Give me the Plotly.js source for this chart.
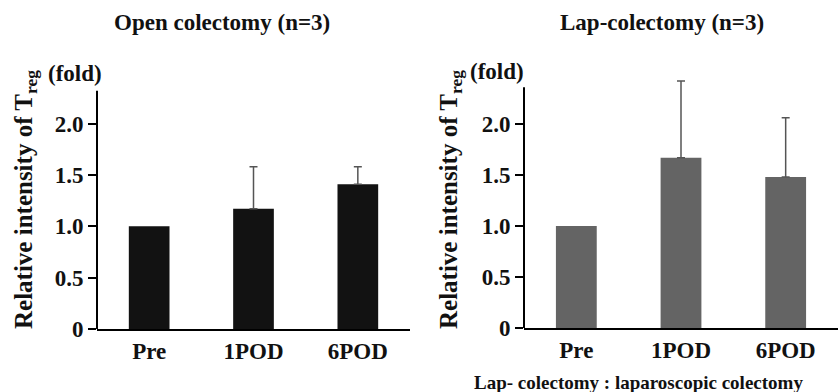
<!DOCTYPE html>
<html>
<head>
<meta charset="utf-8">
<script src="https://cdn.plot.ly/plotly-3.0.1.min.js"></script>
<style>html,body{margin:0;padding:0;background:#fff;}#chart{width:839px;height:392px;}</style>
</head>
<body>
<div id="chart"></div>
<script>
const categories = ["Pre", "1POD", "6POD"];
const openValues = [1.0, 1.17, 1.41];
const openErrPlus = [0, 0.41, 0.17];
const lapValues = [1.0, 1.67, 1.48];
const lapErrPlus = [0, 0.75, 0.58];
const yTickVals = [0, 0.5, 1.0, 1.5, 2.0];
const yTickText = ["0", "0.5", "1.0", "1.5", "2.0"];
const openTitle = "Open colectomy (n=3)";
const lapTitle = "Lap-colectomy (n=3)";
const yTitle = "Relative intensity of T<sub>reg</sub>";
const unitLabel = "(fold)";
const footnote = "Lap- colectomy : laparoscopic colectomy";

const W = 839, H = 392;
const px = v => v / W;
const py = v => 1 - v / H;
const serif = "Liberation Serif";

function errPlus(a) { return a.map(v => v === 0 ? NaN : v); }
function errMinus(a) { return a.map(v => v === 0 ? NaN : 0); }

const traces = [
  {
    type: "bar", x: categories, y: openValues, xaxis: "x", yaxis: "y",
    width: 0.39, marker: {color: "#121212"},
    error_y: {type: "data", symmetric: false, array: errPlus(openErrPlus), arrayminus: errMinus(openErrPlus),
      color: "#555", thickness: 1.5, width: 4},
    showlegend: false, hoverinfo: "x+y"
  },
  {
    type: "bar", x: categories, y: lapValues, xaxis: "x2", yaxis: "y2",
    width: 0.39, marker: {color: "#646464"},
    error_y: {type: "data", symmetric: false, array: errPlus(lapErrPlus), arrayminus: errMinus(lapErrPlus),
      color: "#555", thickness: 1.5, width: 4},
    showlegend: false, hoverinfo: "x+y"
  }
];

const xCommon = {
  type: "category", range: [-0.5, 2.5], showgrid: false, zeroline: false,
  showline: true, linecolor: "#000", linewidth: 2,
  ticks: "",
  tickfont: {family: serif, size: 23, color: "#111", weight: "bold"},
  fixedrange: true
};
const yCommon = {
  showgrid: false, zeroline: false, showline: false,
  ticks: "outside", ticklen: 8, tickwidth: 2, tickcolor: "#000",
  tickvals: yTickVals, ticktext: yTickText,
  tickfont: {family: serif, size: 23, color: "#111", weight: "bold"},
  fixedrange: true
};

const layout = {
  width: W, height: H,
  margin: {l: 0, r: 0, t: 0, b: 0},
  paper_bgcolor: "#fff", plot_bgcolor: "#fff",
  font: {family: serif},
  xaxis: Object.assign({}, xCommon, {domain: [px(97), px(410)], anchor: "y"}),
  yaxis: Object.assign({}, yCommon, {domain: [py(329), py(60)], range: [0, 2.62], anchor: "x"}),
  xaxis2: Object.assign({}, xCommon, {domain: [px(524), px(838)], anchor: "y2"}),
  yaxis2: Object.assign({}, yCommon, {domain: [py(328), py(60)], range: [0, 2.627], anchor: "x2"}),
  shapes: [
    {type: "line", xref: "x domain", yref: "y", x0: 0, x1: 0, y0: 0, y1: 2.32, line: {color: "#000", width: 2}},
    {type: "line", xref: "x2 domain", yref: "y2", x0: 0, x1: 0, y0: 0, y1: 2.36, line: {color: "#000", width: 2}}
  ],
  annotations: [
    {text: openTitle, x: px(222), y: py(23), xref: "paper", yref: "paper", xanchor: "center", yanchor: "middle",
      showarrow: false, font: {family: serif, size: 23, color: "#111", weight: "bold"}},
    {text: lapTitle, x: px(662), y: py(23), xref: "paper", yref: "paper", xanchor: "center", yanchor: "middle",
      showarrow: false, font: {family: serif, size: 23, color: "#111", weight: "bold"}},
    {text: yTitle, textangle: -90, x: px(25), y: py(200), xref: "paper", yref: "paper", xanchor: "center", yanchor: "middle",
      showarrow: false, font: {family: serif, size: 25, color: "#111", weight: "bold"}},
    {text: yTitle, textangle: -90, x: px(450), y: py(200), xref: "paper", yref: "paper", xanchor: "center", yanchor: "middle",
      showarrow: false, font: {family: serif, size: 25, color: "#111", weight: "bold"}},
    {text: unitLabel, x: px(75), y: py(73), xref: "paper", yref: "paper", xanchor: "center", yanchor: "middle",
      showarrow: false, font: {family: serif, size: 23, color: "#111", weight: "bold"}},
    {text: unitLabel, x: px(497), y: py(71), xref: "paper", yref: "paper", xanchor: "center", yanchor: "middle",
      showarrow: false, font: {family: serif, size: 23, color: "#111", weight: "bold"}},
    {text: footnote, x: px(638), y: py(382), xref: "paper", yref: "paper", xanchor: "center", yanchor: "middle",
      showarrow: false, font: {family: serif, size: 19, color: "#111", weight: "bold"}}
  ]
};

Plotly.newPlot("chart", traces, layout, {displayModeBar: false, staticPlot: true});
</script>
</body>
</html>
